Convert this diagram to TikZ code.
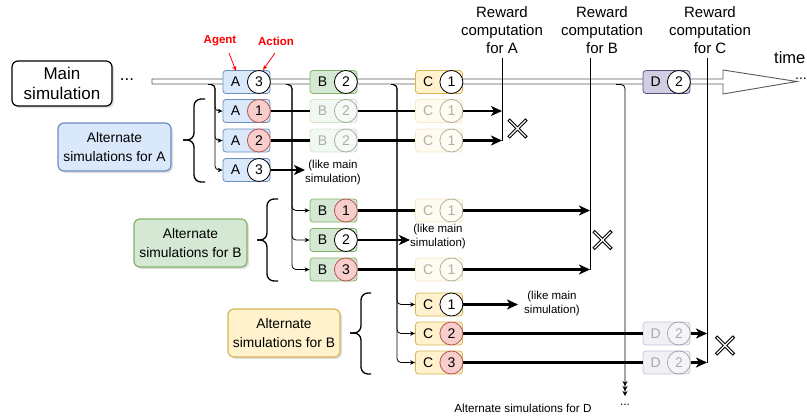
\documentclass[tikz,border=0pt]{standalone}
\usepackage{fontspec}
\setmainfont{Liberation Sans}
\usetikzlibrary{arrows.meta,shadows}
\definecolor{bluef}{HTML}{DAE8FC}\definecolor{blued}{HTML}{6C8EBF}
\definecolor{greenf}{HTML}{D5E8D4}\definecolor{greend}{HTML}{82B366}
\definecolor{yellowf}{HTML}{FFF2CC}\definecolor{yellowd}{HTML}{D6B656}
\definecolor{purplef}{HTML}{D0CEE2}\definecolor{purpled}{HTML}{56517E}
\definecolor{redf}{HTML}{F8CECC}\definecolor{redd}{HTML}{B85450}
\newcommand\fs[2]{\fontsize{#1}{#2}\selectfont}
\newcommand\agb[8]{%
  \node[agbox,#6,#8] (#1) at (#2,#3) {};
  \node[agcirc,#7,#8] (#1c) at ([xshift=-11.5pt]#1.east) {#5};
  \node[agletter,#8] (#1l) at ([xshift=13pt]#1.west) {#4};}
\tikzset{
  agbox/.style={rectangle, rounded corners=3pt, minimum width=47pt, minimum height=23pt, inner sep=0pt, line width=0.8pt},
  blueb/.style={fill=bluef, draw=blued},
  greenb/.style={fill=greenf, draw=greend},
  yellowb/.style={fill=yellowf, draw=yellowd},
  purpleb/.style={fill=purplef, draw=purpled},
  agcirc/.style={circle, draw=black, fill=white, minimum size=23pt, inner sep=0pt, line width=0.8pt, font=\fs{14}{16}},
  redc/.style={fill=redf, draw=redd},
  whitec/.style={},
  agletter/.style={inner sep=0pt, font=\fs{14}{16}},
  ghost/.style={opacity=0.3},
  real/.style={},
  altbox/.style={rectangle, rounded corners=6pt, line width=1.2pt, minimum width=113pt, minimum height=48pt, align=center, font=\fs{13.8}{19.5}, drop shadow={shadow xshift=2pt, shadow yshift=-2pt, opacity=0.25}},
  mainline/.style={draw=black!65, fill=white, line width=0.9pt},
  rline/.style={line width=0.9pt},
  thk/.style={line width=2.6pt},
  thka/.style={line width=2.6pt, -{Stealth[length=11pt,width=10pt,inset=3pt]}},
  fork/.style={line width=0.8pt, rounded corners=4pt, -{Stealth[length=5pt,width=4.5pt]}},
  brc/.style={line width=1.3pt, rounded corners=7pt},
  rew/.style={align=center, font=\fs{15}{18}, inner sep=0pt},
  like/.style={align=center, font=\fs{11.5}{14}, inner sep=0pt},
  redarr/.style={red, line width=0.8pt, -{Stealth[length=5pt,width=4pt]}},
  xmk/.style={line width=3.2pt},
  xmkw/.style={white, line width=1.4pt},
}
\begin{document}
\begin{tikzpicture}[x=1pt,y=-1pt]
\useasboundingbox (0,0) rectangle (807,418);

% main timeline
\coordinate (ms) at (152,79);
\draw[mainline] (ms) -- (723,79) -- (723,70) -- (797,81.5) -- (723,94) -- (723,84) -- (152,84) -- cycle;
\node[font=\fs{14}{16}, inner sep=0pt] (tdots) at (801,79) {...};
\node[font=\fs{16.5}{19}, inner sep=0pt, anchor=west] (time) at (774,58) {time};

% main simulation box
\node[rectangle, rounded corners=6pt, draw=black, fill=white, line width=1.2pt, minimum width=100pt, minimum height=45pt, align=center, font=\fs{17}{20.5}, drop shadow={shadow xshift=2pt, shadow yshift=-2pt, opacity=0.25}] (main) at (62,83.5) {Main\\simulation};
\node[font=\fs{17}{20}, inner sep=0pt] (mdots) at (127,80) {...};

% reward computation labels and lines
\node[rew] (rewA) at (502,30) {Reward\\computation\\for A};
\node[rew] (rewB) at (602,30) {Reward\\computation\\for B};
\node[rew] (rewC) at (710,30) {Reward\\computation\\for C};
\coordinate (rAt) at (502,58); \coordinate (rAb) at (502,140.5);
\coordinate (rBt) at (590,58); \coordinate (rBb) at (590,269.5);
\coordinate (rCt) at (707,58); \coordinate (rCb) at (707,362.5);
\draw[rline] (rAt) -- (rAb);
\draw[rline] (rBt) -- (rBb);
\draw[rline] (rCt) -- (rCb);

% boxes on main line
\agb{a0}{246.5}{82}{A}{3}{blueb}{whitec}{real}
\agb{b0}{333.5}{82}{B}{2}{greenb}{whitec}{real}
\agb{c0}{439}{82}{C}{1}{yellowb}{whitec}{real}
\agb{d0}{666.5}{82}{D}{2}{purpleb}{whitec}{real}

% alternate A
\agb{a1}{246.5}{111}{A}{1}{blueb}{redc}{real}
\agb{a2}{246.5}{140.5}{A}{2}{blueb}{redc}{real}
\agb{a3}{246.5}{170}{A}{3}{blueb}{whitec}{real}
\agb{gb1}{333.5}{111}{B}{2}{greenb}{whitec}{ghost}
\agb{gb2}{333.5}{140.5}{B}{2}{greenb}{whitec}{ghost}
\agb{gc1}{439}{111}{C}{1}{yellowb}{whitec}{ghost}
\agb{gc2}{439}{140.5}{C}{1}{yellowb}{whitec}{ghost}

% alternate B
\agb{b1}{333.5}{210.5}{B}{1}{greenb}{redc}{real}
\agb{b2}{333.5}{240}{B}{2}{greenb}{whitec}{real}
\agb{b3}{333.5}{269.5}{B}{3}{greenb}{redc}{real}
\agb{gc3}{439}{210.5}{C}{1}{yellowb}{whitec}{ghost}
\agb{gc4}{439}{269.5}{C}{1}{yellowb}{whitec}{ghost}

% alternate C
\agb{c1}{439}{304.5}{C}{1}{yellowb}{whitec}{real}
\agb{c2}{439}{333.5}{C}{2}{yellowb}{redc}{real}
\agb{c3}{439}{362.5}{C}{3}{yellowb}{redc}{real}
\agb{gd1}{666.5}{333.5}{D}{2}{purpleb}{whitec}{ghost}
\agb{gd2}{666.5}{362.5}{D}{2}{purpleb}{whitec}{ghost}

% fork lines
\coordinate (fA) at (208,84.5);
\coordinate (fB) at (286,84.5);
\coordinate (fC) at (391,84.5);
\coordinate (fD) at (616,84.5);
\coordinate (dEnd) at (625,396);
\foreach \t in {a1,a2,a3} \draw[fork] (fA) -- ++(7,0) |- (\t.west);
\foreach \t in {b1,b2,b3} \draw[fork] (fB) -- ++(6,0) |- (\t.west);
\foreach \t in {c1,c2,c3} \draw[fork] (fC) -- ++(6,0) |- (\t.west);

% thick lines, row A
\draw[thk] (a1c.east) -- (gb1.west);
\draw[thk] (gb1c.east) -- (gc1.west);
\draw[thka] (gc1c.east) -- (rAt |- gc1c.east);
\draw[thk] (a2c.east) -- (gb2.west);
\draw[thk] (gb2c.east) -- (gc2.west);
\draw[thka] (gc2c.east) -- (rAt |- gc2c.east);
\node[like] (likeA) at (333,173) {(like main\\simulation)};
\draw[thka] (a3c.east) -- (likeA.west |- a3c.east);

% thick lines, row B
\draw[thk] (b1c.east) -- (gc3.west);
\draw[thka] (gc3c.east) -- (rBt |- gc3c.east);
\draw[thk] (b3c.east) -- (gc4.west);
\draw[thka] (gc4c.east) -- (rBt |- gc4c.east);
\node[like] (likeB) at (438,236.5) {(like main\\simulation)};
\draw[thka] (b2c.east) -- (likeB.west |- b2c.east);

% thick lines, row C
\node[like] (likeC) at (552,304) {(like main\\simulation)};
\draw[thka] (c1c.east) -- ([xshift=-6pt]likeC.west |- c1c.east);
\draw[thk] (c2c.east) -- (gd1.west);
\draw[thka] (gd1c.east) -- (rCt |- gd1c.east);
\draw[thk] (c3c.east) -- (gd2.west);
\draw[thka] (gd2c.east) -- (rCt |- gd2c.east);

% fork D
\draw[line width=0.8pt, rounded corners=4pt, -{Stealth[length=5pt,width=5pt] Stealth[length=5pt,width=5pt] Stealth[length=5pt,width=5pt]}] (fD) -| (dEnd);
\node[font=\fs{12}{14}, inner sep=0pt] (ddots) at (625,405) {...};
\node[font=\fs{11.7}{14}, inner sep=0pt] (altD) at (523,408) {Alternate simulations for D};

% X marks
\foreach \cx/\cy in {517.5/128.5, 602.5/240, 725/345.5} {
  \draw[xmk] (\cx-9,\cy-9) -- (\cx+9,\cy+9) (\cx-9,\cy+9) -- (\cx+9,\cy-9);
  \draw[xmkw] (\cx-8.2,\cy-8.2) -- (\cx+8.2,\cy+8.2) (\cx-8.2,\cy+8.2) -- (\cx+8.2,\cy-8.2);
}

% alternate simulation labels and braces
\node[altbox, fill=bluef, draw=blued] (altA) at (114.5,147) {Alternate\\simulations for A};
\node[altbox, fill=greenf, draw=greend] (altB) at (190.5,243) {Alternate\\simulations for B};
\node[altbox, fill=yellowf, draw=yellowd, minimum width=112pt] (altC) at (284,333) {Alternate\\simulations for B};
\draw[brc] (205,99) -- (194,99) -- (194,140) -- (183,140);
\draw[brc] (183,140) -- (194,140) -- (194,182) -- (205,182);
\draw[brc] (278,199) -- (267,199) -- (267,240) -- (257,240);
\draw[brc] (257,240) -- (267,240) -- (267,281) -- (278,281);
\draw[brc] (371,293) -- (361,293) -- (361,333) -- (350,333);
\draw[brc] (350,333) -- (361,333) -- (361,374) -- (371,374);

% agent / action labels
\node[red, font=\bfseries\fs{11.5}{13}, inner sep=0pt] (agentl) at (220,41) {Agent};
\node[red, font=\bfseries\fs{11.5}{13}, inner sep=0pt] (actionl) at (276,41) {Action};
\coordinate (agS) at (229,53); \coordinate (agT) at (236,71);
\coordinate (acS) at (275,53); \coordinate (acT) at (263,70);
\draw[redarr] (agS) -- (agT);
\draw[redarr] (acS) -- (acT);
\end{tikzpicture}
\end{document}
